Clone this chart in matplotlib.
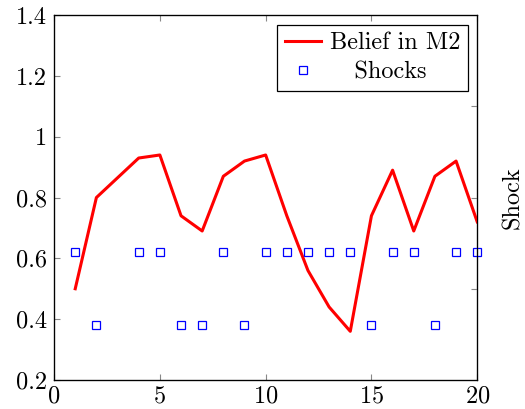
import numpy as np
import matplotlib
matplotlib.use("Agg")
import matplotlib.pyplot as plt

plt.rcParams['font.family'] = 'serif'
plt.rcParams['font.serif'] = ['cmr10', 'DejaVu Serif']
plt.rcParams['mathtext.fontset'] = 'cm'
plt.rcParams['axes.formatter.use_mathtext'] = True

# data
periods = list(range(1, 21))
belief_m2 = [0.50, 0.80, 0.865, 0.93, 0.94, 0.74, 0.69, 0.87, 0.92, 0.94,
             0.74, 0.56, 0.44, 0.36, 0.74, 0.89, 0.69, 0.87, 0.92, 0.72]
shocks = [0.62, 0.38, np.nan, 0.62, 0.62, 0.38, 0.38, 0.62, 0.38, 0.62,
          0.62, 0.62, 0.62, 0.62, 0.38, 0.62, 0.62, 0.38, 0.62, 0.62]

fs = 17.5

fig = plt.figure(figsize=(5.25, 4.09), dpi=100)
ax = fig.add_axes([0.103, 0.071, 0.806, 0.892])

ax.plot(periods, belief_m2, color='red', lw=2.2, label='Belief in M2', zorder=3)
ax.plot(periods, shocks, ls='none', marker='s', ms=6, mfc='none', mec='blue',
        mew=0.9, label='   Shocks', clip_on=False, zorder=4)

ax.set_xlim(0, 20)
ax.set_ylim(0.2, 1.4)
ax.set_xticks([0, 5, 10, 15, 20])
ax.set_yticks([0.2, 0.4, 0.6, 0.8, 1.0, 1.2, 1.4])
ax.set_yticklabels(['0.2', '0.4', '0.6', '0.8', '1', '1.2', '1.4'])
ax.tick_params(direction='in', length=4, width=0.8, color='#888888',
               labelsize=fs, top=True, pad=3)
ax.tick_params(axis='x', pad=4)
ax.tick_params(axis='y', pad=5)
for s in ax.spines.values():
    s.set_linewidth(0.9)

# right axis only shows ticks and a label
ax2 = ax.twinx()
ax2.set_ylim(0, 4)
ax2.set_yticks([1, 2, 3])
ax2.set_yticklabels([])
ax2.tick_params(direction='in', length=4, width=0.8, color='#888888')
ax2.set_ylabel('Shock', fontsize=fs, labelpad=14)

leg = ax.legend(loc='upper right', fontsize=fs, frameon=True, fancybox=False,
                edgecolor='black', framealpha=1, borderpad=0.3,
                handlelength=1.5, handletextpad=0.35, labelspacing=0.3,
                borderaxespad=0.4)
leg.get_frame().set_linewidth(0.9)

fig.savefig('out.png', dpi=100)
